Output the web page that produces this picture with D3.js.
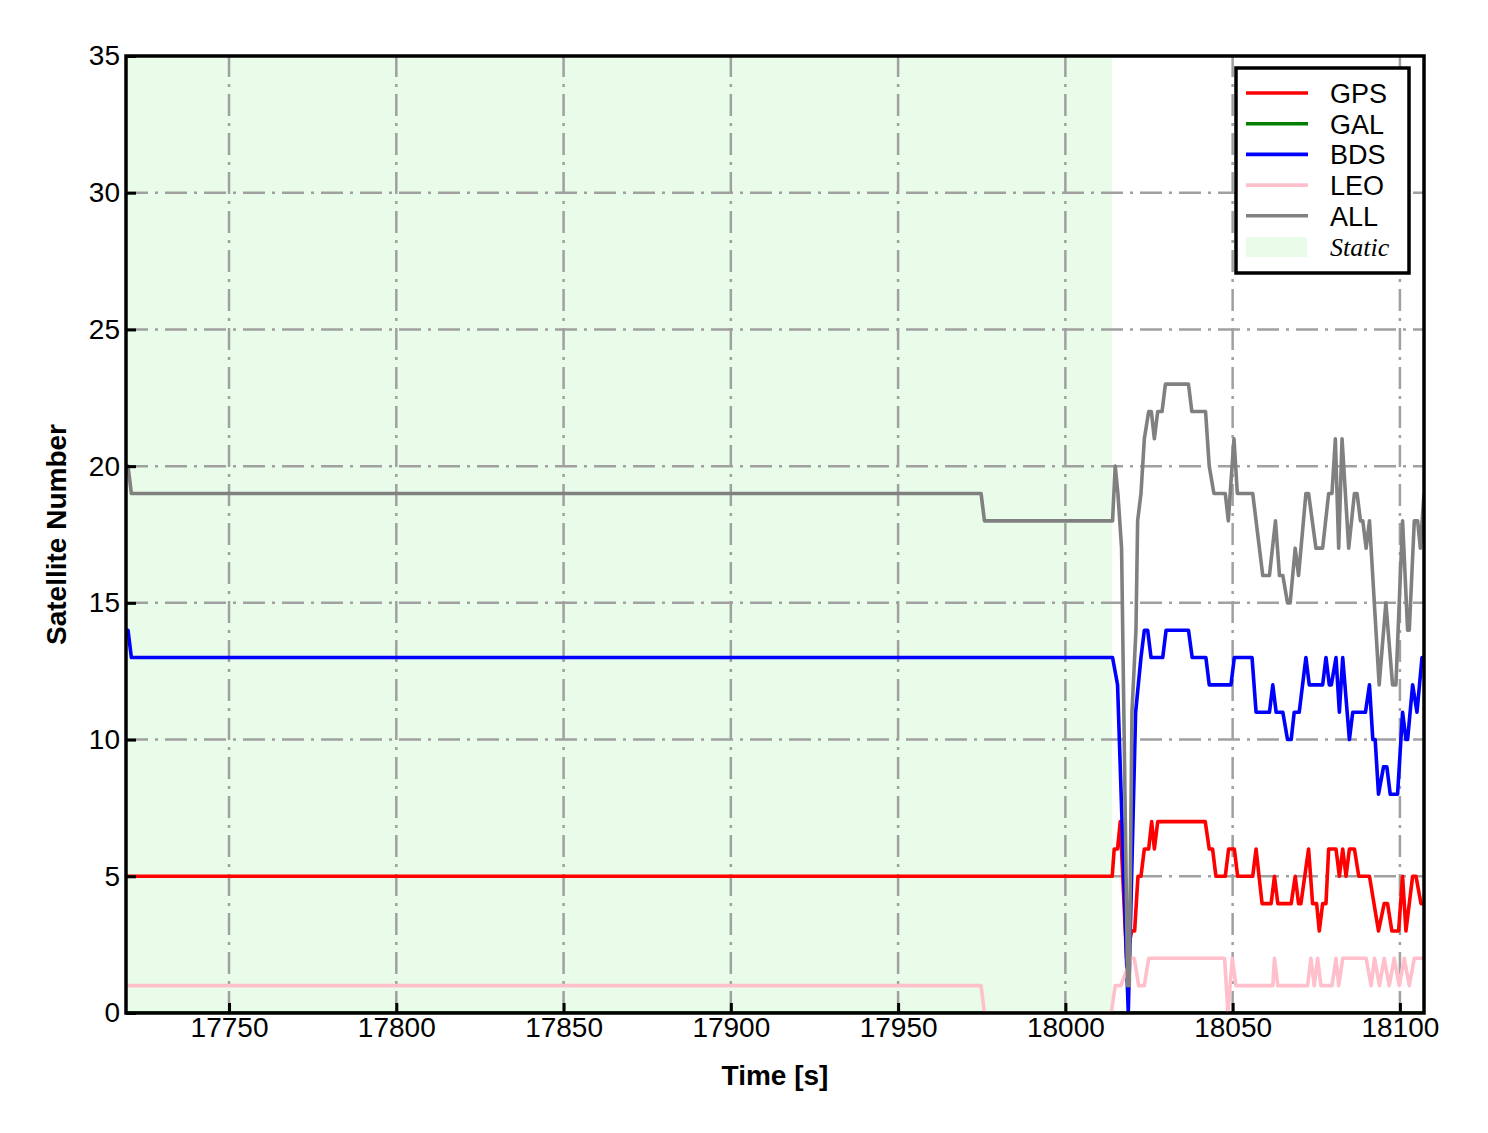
<!DOCTYPE html>
<html>
<head>
<meta charset="utf-8">
<script src="https://cdn.jsdelivr.net/npm/d3@7"></script>
<style>
  body { margin: 0; background: #fff; }
  text { font-family: "Liberation Sans", Arial, sans-serif; }
</style>
</head>
<body>
<div class="graph"></div>
<script>
// time range shown and the "Static" period
var timeRange = [17719.2, 18107.2];
var staticPeriod = [17719.2, 18014.0];
var xTicks = [17750, 17800, 17850, 17900, 17950, 18000, 18050, 18100];
var yTicks = [0, 5, 10, 15, 20, 25, 30, 35];

var seriesNames = ["GPS", "GAL", "BDS", "LEO", "ALL"];

// vertices [time, count]
var gps = [[17719.2,5],[18014.0,5],[18014.6,6],[18015.6,6],[18016.4,7],[18018.3,2],[18019.8,3],[18020.7,3],
    [18021.7,5],[18022.6,5],[18023.6,6],[18024.9,6],[18025.8,7],[18026.6,6],[18027.6,7],[18041.8,7],
    [18043.0,6],[18044.0,6],[18045.0,5],[18047.8,5],[18048.8,6],[18050.5,6],[18051.5,5],[18056.0,5],
    [18057.0,6],[18058.8,4],[18061.5,4],[18062.5,5],[18063.5,4],[18067.5,4],[18068.7,5],[18069.7,4],
    [18070.4,4],[18072.7,6],[18073.9,4],[18075.1,4],[18075.9,3],[18076.9,4],[18077.9,4],[18078.7,6],
    [18080.9,6],[18081.9,5],[18082.9,6],[18083.9,5],[18084.9,6],[18086.4,6],[18087.7,5],[18090.9,5],
    [18093.6,3],[18095.3,4],[18096.3,4],[18097.6,3],[18099.6,3],[18100.8,5],[18101.8,3],[18103.8,5],
    [18104.8,5],[18106.3,4],[18107.2,4]];

var gal = [[17719.2,0],[18107.2,0]];

var bds = [[17719.2,14],[17719.8,14],[17720.8,13],[18014.1,13],[18015.6,12],[18018.8,0],[18021.0,11],
    [18022.6,13],[18023.6,14],[18024.6,14],[18025.6,13],[18029.1,13],[18030.1,14],[18036.8,14],
    [18037.9,13],[18042.0,13],[18043.0,12],[18049.5,12],[18050.5,13],[18055.8,13],[18057.0,11],
    [18061.0,11],[18062.0,12],[18063.0,11],[18065.0,11],[18066.4,10],[18067.5,10],[18068.4,11],
    [18069.9,11],[18071.9,13],[18072.9,12],[18076.9,12],[18077.9,13],[18078.9,12],[18079.5,12],
    [18080.9,13],[18081.9,11],[18082.9,13],[18084.9,10],[18085.9,11],[18089.7,11],[18090.9,12],
    [18091.9,10],[18092.6,10],[18093.6,8],[18095.1,9],[18096.1,9],[18097.1,8],[18099.3,8],
    [18100.8,11],[18101.8,10],[18102.3,10],[18103.8,12],[18105.1,11],[18106.6,13],[18107.2,13]];

var leo = [[17719.2,1],[17974.8,1],[17975.8,0],[18013.7,0],[18014.9,1],[18016.6,1],[18019.6,2],
    [18020.6,2],[18021.9,1],[18023.6,1],[18024.9,2],[18047.6,2],[18048.6,0],[18049.9,2],[18051.0,1],
    [18062.0,1],[18062.5,2],[18063.5,1],[18072.4,1],[18073.4,2],[18074.4,1],[18075.4,2],[18076.4,1],
    [18079.7,1],[18080.9,2],[18081.7,1],[18082.9,2],[18089.9,2],[18091.4,1],[18092.4,2],[18093.9,1],
    [18095.3,2],[18096.8,1],[18098.3,2],[18099.8,1],[18101.3,2],[18102.8,1],[18104.3,2],[18107.2,2]];

var all = [[17719.2,20],[17719.8,20],[17720.8,19],[17974.8,19],[17975.8,18],[18014.1,18],[18014.9,20],
    [18015.7,19],[18016.8,17],[18018.6,1],[18019.1,1],[18019.9,11],[18021.1,14],[18021.6,18],
    [18022.6,19],[18023.6,21],[18024.9,22],[18025.7,22],[18026.6,21],[18027.6,22],[18028.9,22],
    [18029.9,23],[18036.8,23],[18037.8,22],[18041.9,22],[18043.0,20],[18044.4,19],[18047.8,19],
    [18048.7,18],[18050.4,21],[18051.4,19],[18056.0,19],[18059.0,16],[18061.0,16],[18062.8,18],
    [18064.0,16],[18065.0,16],[18066.4,15],[18067.2,15],[18068.7,17],[18069.7,16],[18071.9,19],
    [18072.7,19],[18074.9,17],[18076.9,17],[18078.7,19],[18079.7,19],[18080.7,21],[18081.7,17],
    [18082.7,21],[18084.7,17],[18086.4,19],[18087.2,19],[18088.2,18],[18088.9,18],[18089.9,17],
    [18090.9,18],[18093.8,12],[18095.8,15],[18097.8,12],[18098.8,12],[18100.8,18],[18102.3,14],
    [18102.8,14],[18104.3,18],[18105.3,18],[18106.1,17],[18107.2,19]];

var colors = {GPS: "#ff0000", GAL: "#008000", BDS: "#0000ff", LEO: "#ffc0cb", ALL: "#808080"};
var gridDash = "22,7,3,7";

function createGraph() {
    var svgWidth = 1488, svgHeight = 1133;
    var left = 126, right = 1424, top = 56, bottom = 1013;

    var svg = d3.select("div.graph").append("svg")
        .attr("width", svgWidth)
        .attr("height", svgHeight);

    var x = d3.scaleLinear().domain(timeRange).range([left, right]);
    var y = d3.scaleLinear().domain([0, 35]).range([bottom, top]);

    svg.append("clipPath").attr("id", "plot")
        .append("rect")
        .attr("x", left).attr("y", top)
        .attr("width", right - left).attr("height", bottom - top);

    // static shading
    svg.append("rect")
        .attr("x", x(staticPeriod[0]))
        .attr("y", top)
        .attr("width", x(staticPeriod[1]) - x(staticPeriod[0]))
        .attr("height", bottom - top)
        .attr("fill", "#90ee90")
        .attr("fill-opacity", 0.2);

    // grid
    var grid = svg.append("g")
        .attr("stroke", "#a0a0a0")
        .attr("stroke-width", 2.5)
        .attr("stroke-dasharray", gridDash);
    grid.selectAll("line.v").data(xTicks).enter().append("line")
        .attr("x1", d => x(d)).attr("x2", d => x(d))
        .attr("y1", bottom).attr("y2", top);
    grid.selectAll("line.h").data(yTicks.slice(1, -1)).enter().append("line")
        .attr("x1", left).attr("x2", right)
        .attr("y1", d => y(d)).attr("y2", d => y(d));

    var line = d3.line()
        .x(function (d) { return x(d[0]); })
        .y(function (d) { return y(d[1]); });

    var data = {GPS: gps, GAL: gal, BDS: bds, LEO: leo, ALL: all};
    var lines = svg.append("g").attr("clip-path", "url(#plot)");
    seriesNames.forEach(function (name) {
        lines.append("path")
            .datum(data[name])
            .attr("fill", "none")
            .attr("stroke", colors[name])
            .attr("stroke-width", 3.6)
            .attr("stroke-linejoin", "round")
            .attr("d", line);
    });

    // axes, ticks pointing inward
    svg.append("g")
        .attr("transform", "translate(0," + bottom + ")")
        .call(d3.axisBottom(x).tickValues(xTicks).tickSize(-10).tickPadding(14).tickFormat(d3.format("d")))
        .call(g => g.select(".domain").remove())
        .call(g => g.selectAll(".tick line").attr("stroke", "black").attr("stroke-width", 3))
        .call(g => g.selectAll("text").attr("font-size", 28).attr("fill", "black").attr("dy", "0.71em").attr("y", 4));

    svg.append("g")
        .attr("transform", "translate(" + left + ",0)")
        .call(d3.axisLeft(y).tickValues(yTicks).tickSize(-10).tickPadding(6))
        .call(g => g.select(".domain").remove())
        .call(g => g.selectAll(".tick line").attr("stroke", "black").attr("stroke-width", 3))
        .call(g => g.selectAll("text").attr("font-size", 28).attr("fill", "black").attr("x", -6));

    // frame
    svg.append("rect")
        .attr("x", left).attr("y", top)
        .attr("width", right - left).attr("height", bottom - top)
        .attr("fill", "none")
        .attr("stroke", "black")
        .attr("stroke-width", 3.5);

    svg.append("text")
        .attr("x", (left + right) / 2).attr("y", 1085)
        .attr("text-anchor", "middle")
        .attr("font-size", 28).attr("font-weight", "bold")
        .text("Time [s]");

    svg.append("text")
        .attr("transform", "translate(66," + (top + bottom) / 2 + ") rotate(-90)")
        .attr("text-anchor", "middle")
        .attr("font-size", 28).attr("font-weight", "bold")
        .text("Satellite Number");

    // legend
    var lg = svg.append("g").attr("transform", "translate(1236,68)");
    lg.append("rect")
        .attr("width", 173).attr("height", 205)
        .attr("fill", "white")
        .attr("stroke", "black")
        .attr("stroke-width", 3.5);
    seriesNames.forEach(function (name, i) {
        var yy = 25 + i * 30.7;
        lg.append("line")
            .attr("x1", 10).attr("x2", 72)
            .attr("y1", yy).attr("y2", yy)
            .attr("stroke", colors[name])
            .attr("stroke-width", 3.6);
        lg.append("text")
            .attr("x", 94).attr("y", yy + 10)
            .attr("font-size", 27)
            .text(name);
    });
    lg.append("rect")
        .attr("x", 10).attr("y", 169)
        .attr("width", 61).attr("height", 20)
        .attr("fill", "#90ee90")
        .attr("fill-opacity", 0.2);
    lg.append("text")
        .attr("x", 94).attr("y", 188)
        .attr("font-size", 26)
        .attr("font-style", "italic")
        .style("font-family", "'Liberation Serif', 'Times New Roman', serif")
        .text("Static");
}

createGraph();
</script>
</body>
</html>
